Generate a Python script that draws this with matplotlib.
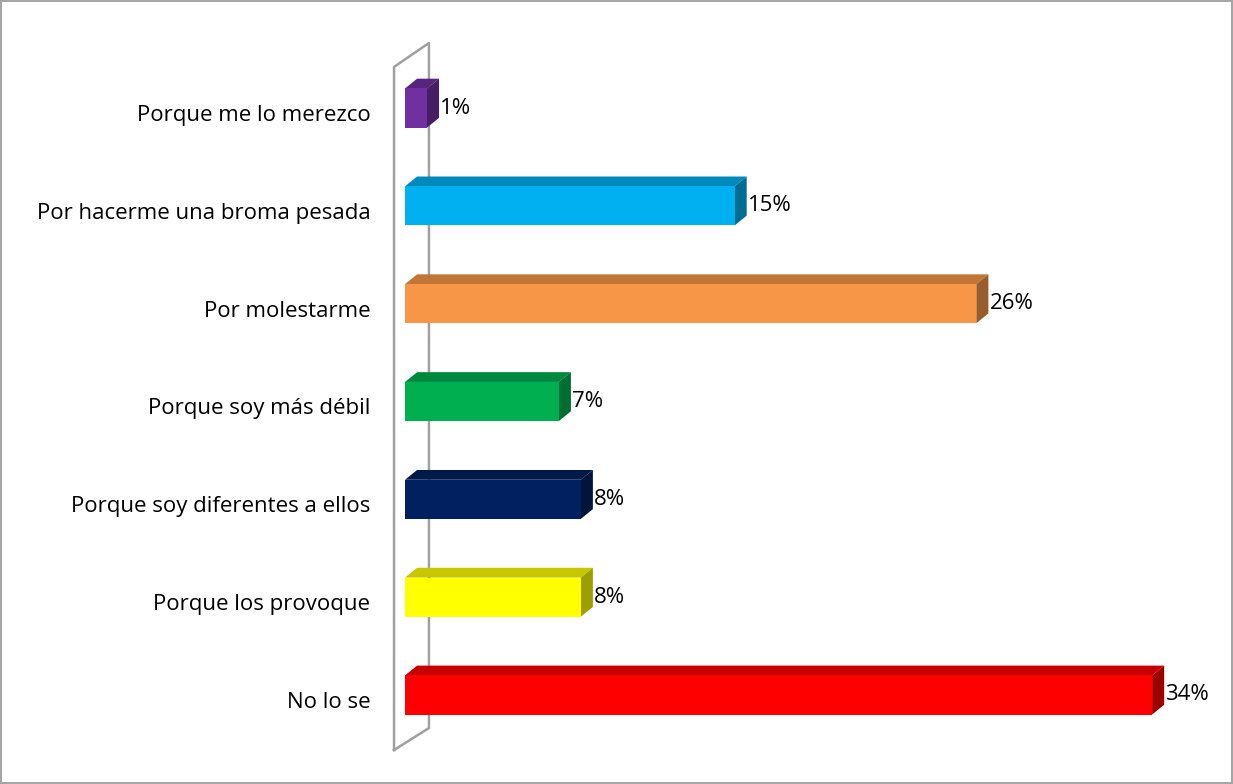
import matplotlib.pyplot as plt
from matplotlib.patches import Polygon
from matplotlib.colors import to_rgb

# data (bottom to top)
categories = ["No lo se", "Porque los provoque", "Porque soy diferentes a ellos",
              "Porque soy más débil", "Por molestarme", "Por hacerme una broma pesada",
              "Porque me lo merezco"]
values = [34, 8, 8, 7, 26, 15, 1]
colors = ["#FF0000", "#FFFF00", "#002060", "#00B050", "#F79646", "#00B0F0", "#7030A0"]

plt.rcParams["font.family"] = ["Open Sans", "DejaVu Sans"]

fig = plt.figure(figsize=(12.33, 7.84), dpi=100)
fig.patch.set_edgecolor("#A6A6A6")
fig.patch.set_linewidth(1.5)
ax = fig.add_axes([380 / 1233, 14 / 784, 840 / 1233, 750 / 784])

h = 0.40      # bar thickness (category units)
dx, dy = 0.55, 0.10  # 3d depth offset


def shade(c, f):
    r, g, b = to_rgb(c)
    return (r * f, g * f, b * f)


# back wall
wx0, wx1 = -0.50, 1.09
wy0, wy1 = -0.563, 6.42
wall = [(wx0, wy0), (wx0, wy1), (wx1, wy1 + 0.245), (wx1, wy0 + 0.225), (wx0, wy0)]
ax.plot([p[0] for p in wall], [p[1] for p in wall], color="#A0A0A0", lw=1.8, zorder=1)

for i, (v, c) in enumerate(zip(values, colors)):
    lo, hi = i - h / 2, i + h / 2
    ax.barh(i, v, height=h, color=c, zorder=3)
    top = Polygon([(0, hi), (v, hi), (v + dx, hi + dy), (dx, hi + dy)],
                  closed=True, facecolor=shade(c, 0.78), edgecolor="none", zorder=2)
    side = Polygon([(v, lo), (v + dx, lo + dy), (v + dx, hi + dy), (v, hi)],
                   closed=True, facecolor=shade(c, 0.62), edgecolor="none", zorder=2)
    ax.add_patch(top)
    ax.add_patch(side)
    ax.text(v + dx + 0.05, i, f"{v}%", va="center", ha="left", fontsize=16, color="black")

ax.set_xlim(-1.138, 37.09)
ax.set_ylim(-0.767, 6.90)
ax.set_yticks([i - 0.05 for i in range(len(categories))])
ax.set_yticklabels(categories, fontsize=16)
ax.tick_params(axis="y", length=0, pad=7)
ax.set_xticks([])
for s in ax.spines.values():
    s.set_visible(False)

plt.savefig("out.png", dpi=100, facecolor="white", edgecolor=fig.patch.get_edgecolor())
